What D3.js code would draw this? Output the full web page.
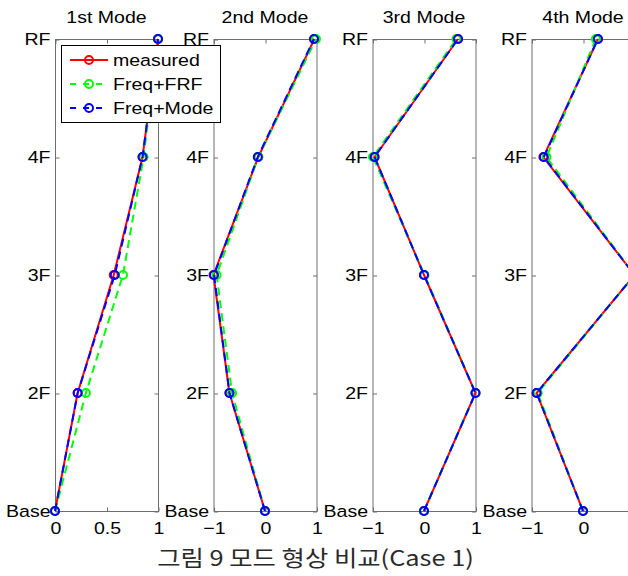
<!DOCTYPE html>
<html>
<head>
<meta charset="utf-8">
<script src="https://cdn.jsdelivr.net/npm/d3@7"></script>
<style>
  html, body { margin: 0; padding: 0; background: #fff; }
  svg { display: block; }
</style>
</head>
<body>
<svg id="chart" width="628" height="576"></svg>
<script>
// Floor levels (bottom to top) and mode titles
const levels = ["Base", "2F", "3F", "4F", "RF"];
const modes = ["1st Mode", "2nd Mode", "3rd Mode", "4th Mode"];

// Normalised mode-shape ordinates per floor (Base, 2F, 3F, 4F, RF)
const measured = [
  [0, 0.22, 0.57, 0.85, 1.0],
  [0, -0.69, -1.0, -0.13, 0.96],
  [0, 1.0, 0.0, -0.96, 0.66],
  [0, -0.9, 1.0, -0.77, 0.29]
];
const freqFRF = [
  [0, 0.30, 0.66, 0.86, 1.0],
  [0, -0.64, -0.94, -0.13, 0.99],
  [0, 1.0, 0.01, -0.99, 0.63],
  [0, -0.88, 1.0, -0.71, 0.25]
];
const freqMode = [
  [0, 0.22, 0.58, 0.85, 1.0],
  [0, -0.69, -0.99, -0.14, 0.95],
  [0, 1.0, 0.0, -0.96, 0.66],
  [0, -0.9, 1.0, -0.76, 0.29]
];

// x-axis domains and ticks per panel
const xDomains = [[0, 1], [-1, 1], [-1, 1], [-1, 1]];
const xTicks = [[0, 0.5, 1], [-1, 0, 1], [-1, 0, 1], [-1, 0, 1]];

const seriesNames = ["measured", "Freq+FRF", "Freq+Mode"];
const seriesData = [measured, freqFRF, freqMode];
const seriesColors = ["#ff0000", "#00ff00", "#0000ff"];
const seriesDash = [null, "8,5", "8,5"];

const W = 628;
const svg = d3.select("#chart");
const FONT = "'Liberation Sans', Arial, Helvetica, sans-serif";
const SX = 1.15;          // horizontal stretch of the lettering
const frameColor = "#6e6e6e";

const yTop = 39, yBottom = 511, panelW = 103;
const panelLeft = [55, 213.5, 372.5, 531.5];

const y = d3.scalePoint().domain(levels).range([yBottom, yTop]).padding(0);
const fmt = d3.format("~g");

const plotLayer = svg.append("g");

modes.forEach((title, i) => {
  const x0 = panelLeft[i];
  const x = d3.scaleLinear().domain(xDomains[i]).range([x0, x0 + panelW]);
  const g = plotLayer.append("g");

  // plotting-area frame
  g.append("rect")
    .attr("x", x0 + 0.5).attr("y", yTop + 0.5)
    .attr("width", panelW).attr("height", yBottom - yTop)
    .attr("fill", "#fff").attr("stroke", frameColor).attr("stroke-width", 1);

  // inward ticks on all four sides
  const styleAxis = (sel) => {
    sel.select(".domain").remove();
    sel.selectAll(".tick line").attr("stroke", frameColor);
  };
  // tick labels that would sit past the page edge are left blank
  const xFmt = (d) => (x(d) + 8 > W ? "" : fmt(d));
  const bottomAx = g.append("g").attr("transform", `translate(0.5,${yBottom + 0.5})`)
    .call(d3.axisBottom(x).tickValues(xTicks[i]).tickFormat(xFmt).tickSize(-4).tickPadding(10))
    .call(styleAxis);
  g.append("g").attr("transform", `translate(0.5,${yTop + 0.5})`)
    .call(d3.axisTop(x).tickValues(xTicks[i]).tickFormat("").tickSize(-4))
    .call(styleAxis);
  const leftAx = g.append("g").attr("transform", `translate(${x0 + 0.5},0.5)`)
    .call(d3.axisLeft(y).tickSize(-4).tickPadding(5))
    .call(styleAxis);
  g.append("g").attr("transform", `translate(${x0 + panelW + 0.5},0.5)`)
    .call(d3.axisRight(y).tickFormat("").tickSize(-4))
    .call(styleAxis);

  [bottomAx, leftAx].forEach(ax => {
    ax.attr("font-family", null).attr("font-size", null);
    ax.selectAll(".tick text")
      .attr("fill", "#000")
      .style("font-family", FONT)
      .style("font-size", "17px")
      .each(function () {
        const t = d3.select(this);
        const xv = +t.attr("x") || 0;
        t.attr("x", xv / SX).attr("transform", `scale(${SX},1)`);
      });
  });

  // panel title
  g.append("text")
    .attr("transform", `translate(${x0 + panelW / 2},23) scale(${SX},1)`)
    .attr("text-anchor", "middle")
    .style("font-family", FONT).style("font-size", "17px")
    .text(title);

  // series lines and circle markers
  seriesData.forEach((data, s) => {
    const pts = data[i].map((v, k) => [x(v), y(levels[k])]);
    const sg = g.append("g");
    sg.append("path")
      .attr("d", d3.line()(pts))
      .attr("fill", "none")
      .attr("stroke", seriesColors[s])
      .attr("stroke-width", 2)
      .attr("stroke-dasharray", seriesDash[s]);
    sg.selectAll("circle").data(pts).join("circle")
      .attr("cx", d => d[0]).attr("cy", d => d[1]).attr("r", 4)
      .attr("fill", "none")
      .attr("stroke", seriesColors[s])
      .attr("stroke-width", 2);
  });
});

// legend box
const leg = svg.append("g");
leg.append("rect")
  .attr("x", 61.5).attr("y", 45.5).attr("width", 159).attr("height", 77)
  .attr("fill", "#fff").attr("stroke", "#000").attr("stroke-width", 1);
seriesNames.forEach((name, s) => {
  const ry = 60 + s * 24;
  leg.append("line")
    .attr("x1", 70).attr("x2", 108).attr("y1", ry).attr("y2", ry)
    .attr("stroke", seriesColors[s]).attr("stroke-width", 2)
    .attr("stroke-dasharray", s ? "6,7" : null);
  leg.append("circle")
    .attr("cx", 89).attr("cy", ry).attr("r", 4)
    .attr("fill", "none").attr("stroke", seriesColors[s]).attr("stroke-width", 2);
  leg.append("text")
    .attr("transform", `translate(113,${ry + 6}) scale(${SX},1)`)
    .style("font-family", FONT).style("font-size", "17px")
    .text(name);
});

// figure caption
svg.append("text")
  .attr("transform", `translate(315.5,566) scale(1.18,1)`)
  .attr("text-anchor", "middle")
  .attr("fill", "#2a2a2a")
  .style("font-family", "'Noto Sans CJK KR', 'Noto Sans', sans-serif")
  .style("font-size", "21.5px")
  .style("font-weight", 400)
  .text("그림 9 모드 형상 비교(Case 1)");
</script>
</body>
</html>
